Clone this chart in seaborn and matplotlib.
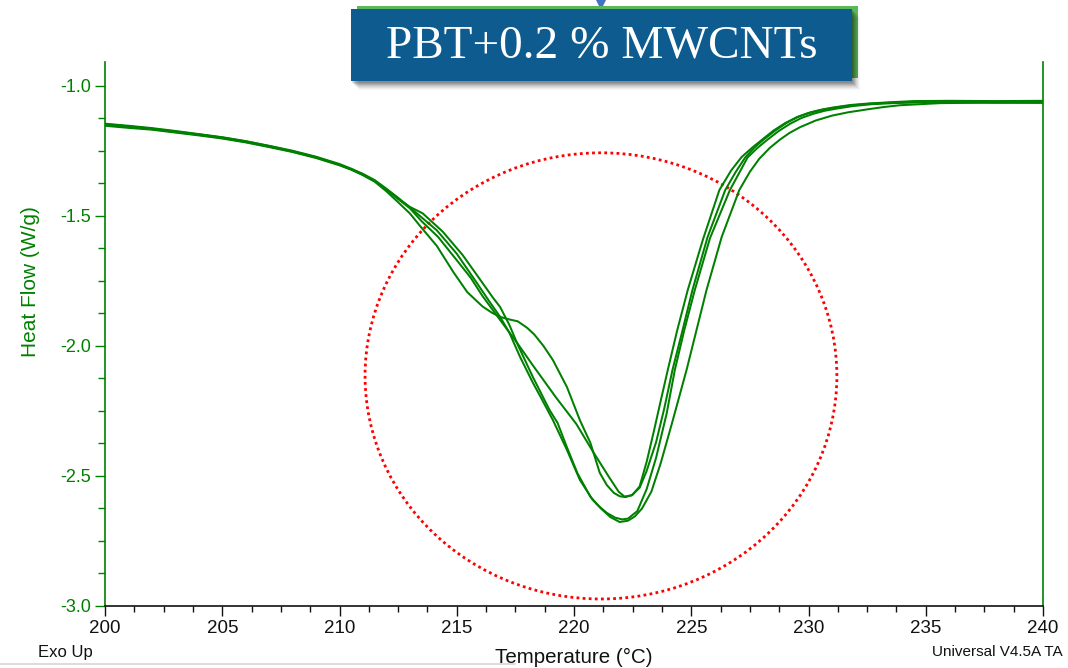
import matplotlib
matplotlib.use("Agg")
import numpy as np
import pandas as pd
import matplotlib.pyplot as plt
import seaborn as sns
from matplotlib.patches import Ellipse, Rectangle, Polygon
from matplotlib.lines import Line2D
from matplotlib.ticker import MultipleLocator
from matplotlib import font_manager

# ---------------- data ----------------
run_names = ["Run 1", "Run 2", "Run 3", "Run 4"]

A_T = [200, 201, 202, 203, 204, 205, 206, 207, 208, 209, 210, 210.5, 211, 211.5, 212, 212.5, 213,
       213.45, 214.15, 214.85, 215.45, 216.1, 216.5, 216.85, 217.2, 217.6, 218.0, 218.3, 218.7, 219.1,
       219.7, 220.25, 220.7, 221.1, 221.4, 221.7, 221.95, 222.2, 222.5, 222.8, 223.1, 223.4, 223.7,
       224.0, 224.4, 224.85, 225.5, 226.2, 226.7, 227.15, 227.6, 228.0, 228.5, 229.0, 229.5, 230.0,
       230.5, 231.0, 231.7, 232.5, 233.5, 234.5, 236.0, 238.0, 240.0]
A_y = [-1.147, -1.155, -1.164, -1.175, -1.186, -1.198, -1.213, -1.231, -1.251, -1.274, -1.303, -1.321,
       -1.343, -1.368, -1.405, -1.447, -1.490, -1.540, -1.615, -1.715, -1.793, -1.848, -1.872, -1.888,
       -1.897, -1.905, -1.930, -1.955, -2.000, -2.054, -2.158, -2.285, -2.373, -2.488, -2.535, -2.565,
       -2.578, -2.581, -2.572, -2.540, -2.445, -2.330, -2.210, -2.092, -1.940, -1.785, -1.590, -1.400,
       -1.325, -1.273, -1.237, -1.208, -1.172, -1.143, -1.120, -1.104, -1.093, -1.085, -1.076, -1.069,
       -1.064, -1.062, -1.060, -1.061, -1.060]

B_T = [200, 201, 202, 203, 204, 205, 206, 207, 208, 209, 210, 210.5, 211, 211.5, 212, 212.5, 213,
       213.5, 214.2, 215.0, 215.6, 216.1, 216.85, 217.55, 218.25, 219.25, 220.1, 220.8, 221.5, 221.9,
       222.15, 222.45, 222.8, 223.1, 223.5, 223.85, 224.2, 224.6, 225.05, 225.7, 226.45, 226.9, 227.3,
       227.7, 228.1, 228.6, 229.1, 229.6, 230.1, 230.6, 231.1, 231.8, 232.6, 233.6, 234.5, 236.0,
       238.0, 240.0]
B_y = [-1.150, -1.158, -1.166, -1.177, -1.188, -1.200, -1.215, -1.233, -1.252, -1.275, -1.303, -1.320,
       -1.340, -1.364, -1.398, -1.435, -1.470, -1.520, -1.580, -1.670, -1.738, -1.808, -1.900, -1.985,
       -2.075, -2.200, -2.300, -2.405, -2.505, -2.560, -2.579, -2.575, -2.545, -2.480, -2.370, -2.240,
       -2.092, -1.950, -1.785, -1.580, -1.400, -1.330, -1.275, -1.236, -1.205, -1.170, -1.140, -1.117,
       -1.101, -1.090, -1.082, -1.073, -1.067, -1.062, -1.058, -1.057, -1.058, -1.057]

C_T = [200, 201, 202, 203, 204, 205, 206, 207, 208, 209, 210, 210.5, 211, 211.5, 212, 212.5, 213,
       213.55, 214.4, 215.25, 216.0, 216.55, 216.85, 217.25, 217.6, 218.25, 218.95, 219.3, 219.7,
       220.15, 220.7, 221.05, 221.4, 221.75, 222.05, 222.3, 222.7, 223.1, 223.5, 223.95, 224.3, 224.7,
       225.15, 225.8, 226.65, 227.4, 227.8, 228.2, 228.7, 229.2, 229.7, 230.2, 230.7, 231.2, 231.9,
       232.7, 233.6, 234.6, 236.0, 238.0, 240.0]
C_y = [-1.153, -1.161, -1.168, -1.179, -1.190, -1.202, -1.217, -1.235, -1.254, -1.277, -1.305, -1.322,
       -1.342, -1.366, -1.398, -1.432, -1.465, -1.490, -1.560, -1.650, -1.745, -1.815, -1.850, -1.920,
       -1.995, -2.120, -2.245, -2.296, -2.390, -2.490, -2.580, -2.615, -2.642, -2.660, -2.667, -2.664,
       -2.635, -2.550, -2.430, -2.260, -2.092, -1.940, -1.785, -1.585, -1.400, -1.275, -1.240, -1.210,
       -1.175, -1.146, -1.123, -1.107, -1.095, -1.087, -1.077, -1.070, -1.066, -1.063, -1.063, -1.064,
       -1.063]

D_T = [200, 201, 202, 203, 204, 205, 206, 207, 208, 209, 210, 210.5, 211, 211.5, 212, 212.5, 213,
       213.3, 214.15, 215.0, 215.8, 216.4, 216.85, 217.25, 217.7, 218.25, 218.6, 219.1, 219.7, 220.25,
       220.8, 221.15, 221.55, 221.95, 222.3, 222.6, 222.9, 223.3, 223.7, 224.2, 224.8, 225.65, 226.3,
       227.05, 227.5, 227.9, 228.35, 228.8, 229.2, 229.65, 230.3, 231.0, 231.7, 232.5, 233.2, 233.9,
       235.6, 237.5, 240.0]
D_y = [-1.145, -1.153, -1.162, -1.173, -1.185, -1.197, -1.212, -1.230, -1.249, -1.272, -1.300, -1.318,
       -1.338, -1.362, -1.395, -1.430, -1.468, -1.490, -1.555, -1.645, -1.750, -1.830, -1.888, -1.950,
       -2.042, -2.142, -2.200, -2.285, -2.400, -2.515, -2.592, -2.625, -2.658, -2.677, -2.672, -2.655,
       -2.625, -2.560, -2.450, -2.290, -2.092, -1.785, -1.580, -1.400, -1.330, -1.280, -1.238, -1.205,
       -1.180, -1.158, -1.133, -1.114, -1.101, -1.090, -1.081, -1.074, -1.066, -1.064, -1.065]

x_ticks = [200, 205, 210, 215, 220, 225, 230, 235, 240]
y_ticks = [-3.0, -2.5, -2.0, -1.5, -1.0]
title_text = "PBT+0.2 % MWCNTs"
x_label = "Temperature (°C)"
y_label = "Heat Flow (W/g)"
footer_left = "Exo Up"
footer_right = "Universal V4.5A TA"

# ---------------- style ----------------
sns.set_theme(style="white")
names = {f.name for f in font_manager.fontManager.ttflist}
narrow = "Liberation Sans Narrow" if "Liberation Sans Narrow" in names else None
plt.rcParams["font.family"] = ["Liberation Sans", "DejaVu Sans"]

GREEN = "#008000"
W, H = 1068, 668
fig = plt.figure(figsize=(W / 100, H / 100), dpi=100)
fig.patch.set_facecolor("white")
ax = fig.add_axes([105 / W, 1 - 606 / H, 938 / W, 544 / H])
ax.set_facecolor("white")

frames = []
for name, t, y in zip(run_names, [A_T, B_T, C_T, D_T], [A_y, B_y, C_y, D_y]):
    frames.append(pd.DataFrame({"run": name, "T": t, "HF": y}))
df = pd.concat(frames, ignore_index=True)

sns.lineplot(data=df, x="T", y="HF", hue="run", palette=[GREEN] * 4, estimator=None,
             sort=False, legend=False, linewidth=1.45, ax=ax)

ax.add_patch(Ellipse((221.15, -2.115), 20.12, 1.716, fill=False, edgecolor="#FF0000",
                     linewidth=2.0, linestyle=(0, (1, 1.2))))

ax.set_xlim(200, 240)
ax.set_ylim(-3.0, -0.9077)
ax.set_xticks(x_ticks)
ax.set_yticks(y_ticks)
ax.set_yticklabels([f"{v:.1f}" for v in y_ticks])
ax.xaxis.set_minor_locator(MultipleLocator(1.25))
ax.yaxis.set_minor_locator(MultipleLocator(0.125))

for s in ["left", "right"]:
    ax.spines[s].set_color(GREEN)
    ax.spines[s].set_linewidth(1.2)
ax.spines["top"].set_visible(False)
ax.spines["bottom"].set_color("#111111")
ax.spines["bottom"].set_linewidth(1.2)

xfont = narrow if narrow else "Liberation Sans"
xsize = 15 if narrow else 13.5
ax.tick_params(axis="x", which="major", direction="out", length=7, width=1, color="#111111",
               labelcolor="#111111", labelsize=xsize, pad=3, bottom=True)
ax.tick_params(axis="x", which="minor", direction="out", length=4, width=1, color="#111111",
               bottom=True)
ax.tick_params(axis="y", which="major", direction="out", length=7, width=1, color=GREEN,
               labelcolor=GREEN, labelsize=13, pad=3, left=True, right=False)
ax.tick_params(axis="y", which="minor", direction="out", length=5, width=1, color=GREEN,
               left=True, right=False)
for lab in ax.get_xticklabels():
    lab.set_family([xfont, "DejaVu Sans"])

ax.set_xlabel(x_label, fontsize=(17 if narrow else 14.8), color="#111111",
              family=[xfont, "DejaVu Sans"])
ax.xaxis.set_label_coords(0.5, -0.094)
ax.xaxis.label.set_va("center")
ax.set_ylabel(y_label, fontsize=15, color=GREEN)
ax.yaxis.set_label_coords(-0.0693, 0.596)

fig.text(38 / W, 1 - 652 / H, footer_left, fontsize=(13 if narrow else 12), color="#111111",
         va="center", ha="left", family=[xfont, "DejaVu Sans"])
fig.text(1063 / W, 1 - 652 / H, footer_right, fontsize=(12.5 if narrow else 11), color="#111111",
         va="center", ha="right", family=[xfont, "DejaVu Sans"])

# slide decoration: grey line at bottom
fig.add_artist(Line2D([0, 515 / W], [1 - 664 / H, 1 - 664 / H], color="#D5D5D5", linewidth=1.2,
                      transform=fig.transFigure))

# title box with green backing, shadow and small arrow
def px_rect(x0, y0, x1, y1, **kw):
    return Rectangle((x0 / W, 1 - y1 / H), (x1 - x0) / W, (y1 - y0) / H,
                     transform=fig.transFigure, **kw)

fig.add_artist(px_rect(357, 6, 858, 78, facecolor="#5CB65A", edgecolor="none", zorder=5))
for i, a in enumerate([0.11, 0.10, 0.09, 0.08, 0.06, 0.05, 0.04, 0.03]):
    d = i + 1
    fig.add_artist(px_rect(351 + d, 9 + d, 852 + d, 81 + d + 1, facecolor="black",
                           edgecolor="none", alpha=a, zorder=5.5))
fig.add_artist(px_rect(351, 9, 852, 81, facecolor="#0D5B8F", edgecolor="none", zorder=6))
fig.add_artist(Polygon([[596 / W, 1.0], [606 / W, 1.0], [601 / W, 1 - 10 / H]], closed=True,
                       transform=fig.transFigure, facecolor="#4472C4", edgecolor="none", zorder=4))
fig.text(602 / W, 1 - 46 / H, title_text, fontsize=34, color="white", ha="center", va="center",
         family=["Liberation Serif", "DejaVu Serif"], zorder=7)

fig.savefig("out.png", dpi=100, facecolor="white")
